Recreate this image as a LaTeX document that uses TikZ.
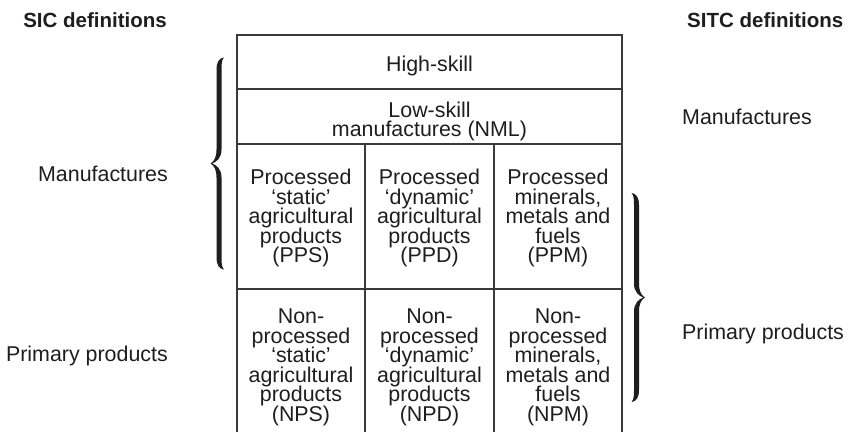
\documentclass[tikz,border=0pt]{standalone}
\usepackage{fontspec}
\setmainfont{Liberation Sans}

\definecolor{ink}{HTML}{1E1E1E}
\definecolor{gridline}{HTML}{3A3A3A}

% body font with a fixed line pitch (no extra \lineskip between tall lines)
\newcommand{\cellfont}{\fontsize{21.4}{19.5}\selectfont\lineskiplimit=-20pt\relax}

% A bold curly brace drawn as a filled, tapered outline.
% #1 = x of the curled ends, #2 = top y, #3 = bottom y,
% #4 = 1 for a brace opening to the right (tip on the left), -1 for the mirror image.
\newcommand{\thickbrace}[4]{%
  \pgfmathsetmacro{\bracemid}{(#2+#3)/2}
  \fill[ink]
    (#1,#2)
      .. controls ({#1-5*(#4)},{#2+0.5}) and ({#1-7.5*(#4)},{#2+4.5}) .. ({#1-7.5*(#4)},{#2+12.5})
      -- ({#1-7.5*(#4)},{\bracemid-14})
      .. controls ({#1-7.5*(#4)},{\bracemid-6}) and ({#1-10*(#4)},{\bracemid-2}) .. ({#1-13.5*(#4)},{\bracemid})
      .. controls ({#1-10*(#4)},{\bracemid+2}) and ({#1-7.5*(#4)},{\bracemid+6}) .. ({#1-7.5*(#4)},{\bracemid+14})
      -- ({#1-7.5*(#4)},{#3-12.5})
      .. controls ({#1-7.5*(#4)},{#3-4.5}) and ({#1-5*(#4)},{#3-0.5}) .. (#1,#3)
      .. controls ({#1-2.5*(#4)},{#3-2.5}) and ({#1-2.5*(#4)},{#3-6.5}) .. ({#1-2.5*(#4)},{#3-14.5})
      -- ({#1-2.5*(#4)},{\bracemid+14})
      .. controls ({#1-2.5*(#4)},{\bracemid+6}) and ({#1-7*(#4)},{\bracemid+1.5}) .. ({#1-12*(#4)},{\bracemid})
      .. controls ({#1-7*(#4)},{\bracemid-1.5}) and ({#1-2.5*(#4)},{\bracemid-6}) .. ({#1-2.5*(#4)},{\bracemid-14})
      -- ({#1-2.5*(#4)},{#2+14.5})
      .. controls ({#1-2.5*(#4)},{#2+6.5}) and ({#1-2.5*(#4)},{#2+2.5}) .. (#1,#2)
      -- cycle;
}

\begin{document}
\begin{tikzpicture}[x=1pt,y=-1pt,
    gridrule/.style={draw=gridline,line width=1.2pt,line join=miter},
    txt/.style={inner sep=0pt,text=ink,font=\cellfont},
    cell/.style={txt,align=center},
    heading/.style={txt,font=\fontsize{20.5}{19}\selectfont\bfseries}]

  \useasboundingbox (0,0) rectangle (849,432);
  \fill[white] (0,0) rectangle (849,432);

  % column headings
  \node[heading,anchor=base east] (sic)  at (167,27) {SIC definitions};
  \node[heading,anchor=base west] (sitc) at (687,27) {SITC definitions};

  % table grid
  \draw[gridrule] (237,432) -- (237,35) -- (622,35) -- (622,432);
  \draw[gridrule] (237,89)  -- (622,89);
  \draw[gridrule] (237,144) -- (622,144);
  \draw[gridrule] (237,289) -- (622,289);
  \draw[gridrule] (365,144) -- (365,432);
  \draw[gridrule] (494,144) -- (494,432);

  % table cells
  \node[cell] (hs)  at (429.5,66)  {High-skill};
  \node[cell] (nml) at (429.5,121.5) {Low-skill\\manufactures (NML)};

  \node[cell] (pps) at (301,218)   {Processed\\‘static’\\agricultural\\products\\(PPS)};
  \node[cell] (ppd) at (429.5,218) {Processed\\‘dynamic’\\agricultural\\products\\(PPD)};
  \node[cell] (ppm) at (558,218)   {Processed\\minerals,\\metals and\\fuels\\(PPM)};

  \node[cell] (nps) at (301,367.5)   {Non-\\processed\\‘static’\\agricultural\\products\\(NPS)};
  \node[cell] (npd) at (429.5,367.5) {Non-\\processed\\‘dynamic’\\agricultural\\products\\(NPD)};
  \node[cell] (npm) at (558,367.5)   {Non-\\processed\\minerals,\\metals and\\fuels\\(NPM)};

  % SIC grouping (left)
  \thickbrace{224}{57.5}{269.5}{1}
  \node[txt,anchor=base east] (sicman)  at (168,181.5) {Manufactures};
  \node[txt,anchor=base east] (sicprim) at (168,361.5) {Primary products};

  % SITC grouping (right)
  \thickbrace{631.5}{193}{402}{-1}
  \node[txt,anchor=base west] (sitcman)  at (682,124) {Manufactures};
  \node[txt,anchor=base west] (sitcprim) at (682,339) {Primary products};
\end{tikzpicture}
\end{document}
